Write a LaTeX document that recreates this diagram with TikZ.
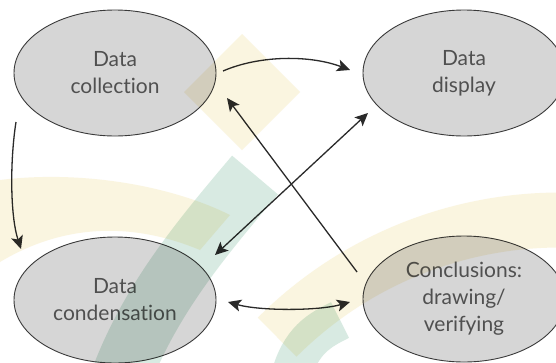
\documentclass[tikz,border=0pt]{standalone}
\usepackage{fontspec}
\setmainfont{Lato}[Ligatures={NoCommon,NoRequired,NoContextual,NoDiscretionary}]
\usetikzlibrary{shapes.geometric,arrows.meta}
\definecolor{ellfill}{HTML}{D6D6D6}
\definecolor{elldraw}{HTML}{3A3A3A}
\definecolor{txt}{HTML}{505050}
\definecolor{arrc}{HTML}{2A2A2A}
\definecolor{wmyel}{HTML}{F3E2A6}
\definecolor{wmgrn}{HTML}{8FC4AA}
\tikzset{
  stage/.style={ellipse, draw=elldraw, line width=0.9pt, fill=ellfill,
    minimum width=202pt, minimum height=126pt, inner sep=0pt,
    text=txt, align=center, font=\fontsize{21}{27}\selectfont},
  arr/.style={draw=arrc, line width=1.3pt,
    -{Stealth[length=13pt,width=12pt,inset=3pt]}},
  darr/.style={draw=arrc, line width=1.3pt,
    {Stealth[length=13pt,width=12pt,inset=3pt]}-{Stealth[length=13pt,width=12pt,inset=3pt]}},
  wm/.style={opacity=0.34, blend mode=multiply}
}
\begin{document}
\begin{tikzpicture}[x=1pt,y=-1pt]
\useasboundingbox (0,0) rectangle (556,362);
\clip (0,0) rectangle (556,362);
\fill[white] (0,0) rectangle (556,362);
% nodes
\node[stage] (coll) at (115,73) {Data\\collection};
\node[stage] (disp) at (464,73) {Data\\display};
\node[stage] (cond) at (115,300) {Data\\condensation};
\node[stage] (concl) at (464,299) {Conclusions:\\drawing/\\verifying};
% connectors
\draw[arr] ([shift={(108,-2)}]coll.center) .. controls (260,55) and (310,55) .. ([shift={(-114,-3)}]disp.center);
\draw[arr] ([shift={(-99,49)}]coll.center) .. controls (10,160) and (10,215) .. ([shift={(-94,-51)}]cond.center);
\draw[arr] ([shift={(-107,-27)}]concl.center) -- ([shift={(112,25)}]coll.center);
\draw[darr] ([shift={(-96,40)}]disp.center) -- ([shift={(100,-45)}]cond.center);
\draw[darr] ([shift={(113,2)}]cond.center) .. controls (260,311) and (318,311) .. ([shift={(-114,3)}]concl.center);
\draw[darr] ([shift={(93,51)}]disp.center) .. controls (575,160) and (575,215) .. ([shift={(93,-48)}]concl.center);
% watermark
\fill[wmyel,wm] (242,34) -- (300,92) -- (242,150) -- (184,92) -- cycle;
\draw[wmyel,wm,line width=55pt] (560,620) ++(-135:400) arc[start angle=-135,end angle=-88,radius=400];
\fill[wmyel,wm] (0,180) .. controls (80,170) and (170,185) .. (230,215) -- (200,250) .. controls (140,225) and (70,220) .. (0,262) -- cycle;
\draw[wmgrn,wm,line width=60pt] (255,175) .. controls (200,240) and (150,300) .. (120,380);
\draw[wmgrn,wm,line width=40pt] (290,380) .. controls (300,340) and (320,330) .. (340,320);
\end{tikzpicture}
\end{document}
